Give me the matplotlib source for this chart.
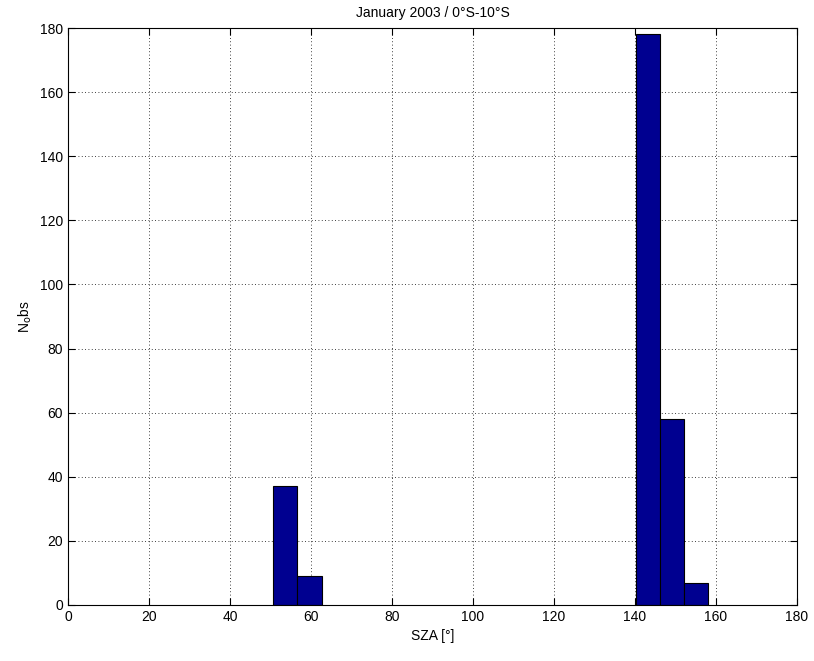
import matplotlib
matplotlib.use("Agg")
import matplotlib.pyplot as plt

plt.rcParams['font.family'] = ['Liberation Sans', 'DejaVu Sans']

# histogram bins (edges) and counts
edges_a = [50.6, 56.6, 62.6]
counts_a = [37, 9]
edges_b = [140.2, 146.2, 152.1, 158.0]
counts_b = [178, 58, 7]

xticks = [0, 20, 40, 60, 80, 100, 120, 140, 160, 180]
yticks = [0, 20, 40, 60, 80, 100, 120, 140, 160, 180]

fig = plt.figure(figsize=(8.14, 6.61), dpi=100)
ax = fig.add_axes([68/814, 56/661, 729/814, 577/661])

for edges, counts in [(edges_a, counts_a), (edges_b, counts_b)]:
    lefts = edges[:-1]
    widths = [edges[i+1] - edges[i] for i in range(len(counts))]
    ax.bar(lefts, counts, width=widths, align="edge", color="#000090",
           edgecolor="black", linewidth=0.8, zorder=3)

ax.set_xlim(0, 180)
ax.set_ylim(0, 180)
ax.set_xticks(xticks)
ax.set_yticks(yticks)
ax.grid(True, linestyle=(0, (1, 3)), color="black", linewidth=0.6, zorder=0)
ax.tick_params(direction="in", top=True, right=True, labelsize=10, length=5)
for s in ax.spines.values():
    s.set_linewidth(0.8)
    s.set_zorder(4)

ax.set_title("January 2003 / 0°S-10°S", fontsize=10, pad=8)
ax.set_xlabel("SZA [°]", fontsize=10)
ax.set_ylabel("N$_{\\mathrm{o}}$bs", fontsize=10)

plt.savefig("out.png", dpi=100)
